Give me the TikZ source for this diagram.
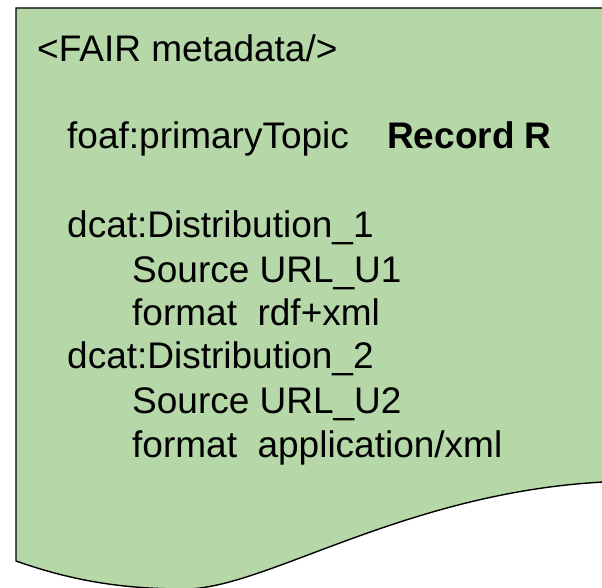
\documentclass[tikz,border=0pt]{standalone}
\usepackage{fontspec}
\setmainfont{Liberation Sans}
\definecolor{docgreen}{RGB}{182,215,168}

\tikzset{
  line/.style={anchor=base west,inner sep=0pt,font=\fontsize{37}{44}\selectfont},
}

\begin{document}
\begin{tikzpicture}[x=1pt,y=-1pt]
        \useasboundingbox (0,0) rectangle (602,588);
        \clip (0,0) rectangle (602,588);

        % Document shape with wavy bottom
        \draw[fill=docgreen,line width=1.4pt] (16,8) -- (640,8) -- (640,481)
          .. controls (420,481) and (270,589) .. (185,589)
          .. controls (120,589) and (70,580) .. (16,561) -- cycle;

        % Text lines
        \node[line] (title) at (37,62) {<FAIR metadata/>};
        \node[line] (topic) at (67,149) {foaf:primaryTopic};
        \node[line,font=\fontsize{37}{44}\selectfont\bfseries] (record) at (387,149) {Record R};
        \node[line] (dist1) at (67,237) {dcat:Distribution\_1};
        \node[line] (src1) at (132,282) {Source URL\_U1};
        \node[line] (fmt1) at (132,325) {format\ \ rdf+xml};
        \node[line] (dist2) at (67,368) {dcat:Distribution\_2};
        \node[line] (src2) at (132,413) {Source URL\_U2};
        \node[line] (fmt2) at (132,457) {format\ \ application/xml};
\end{tikzpicture}
\end{document}
